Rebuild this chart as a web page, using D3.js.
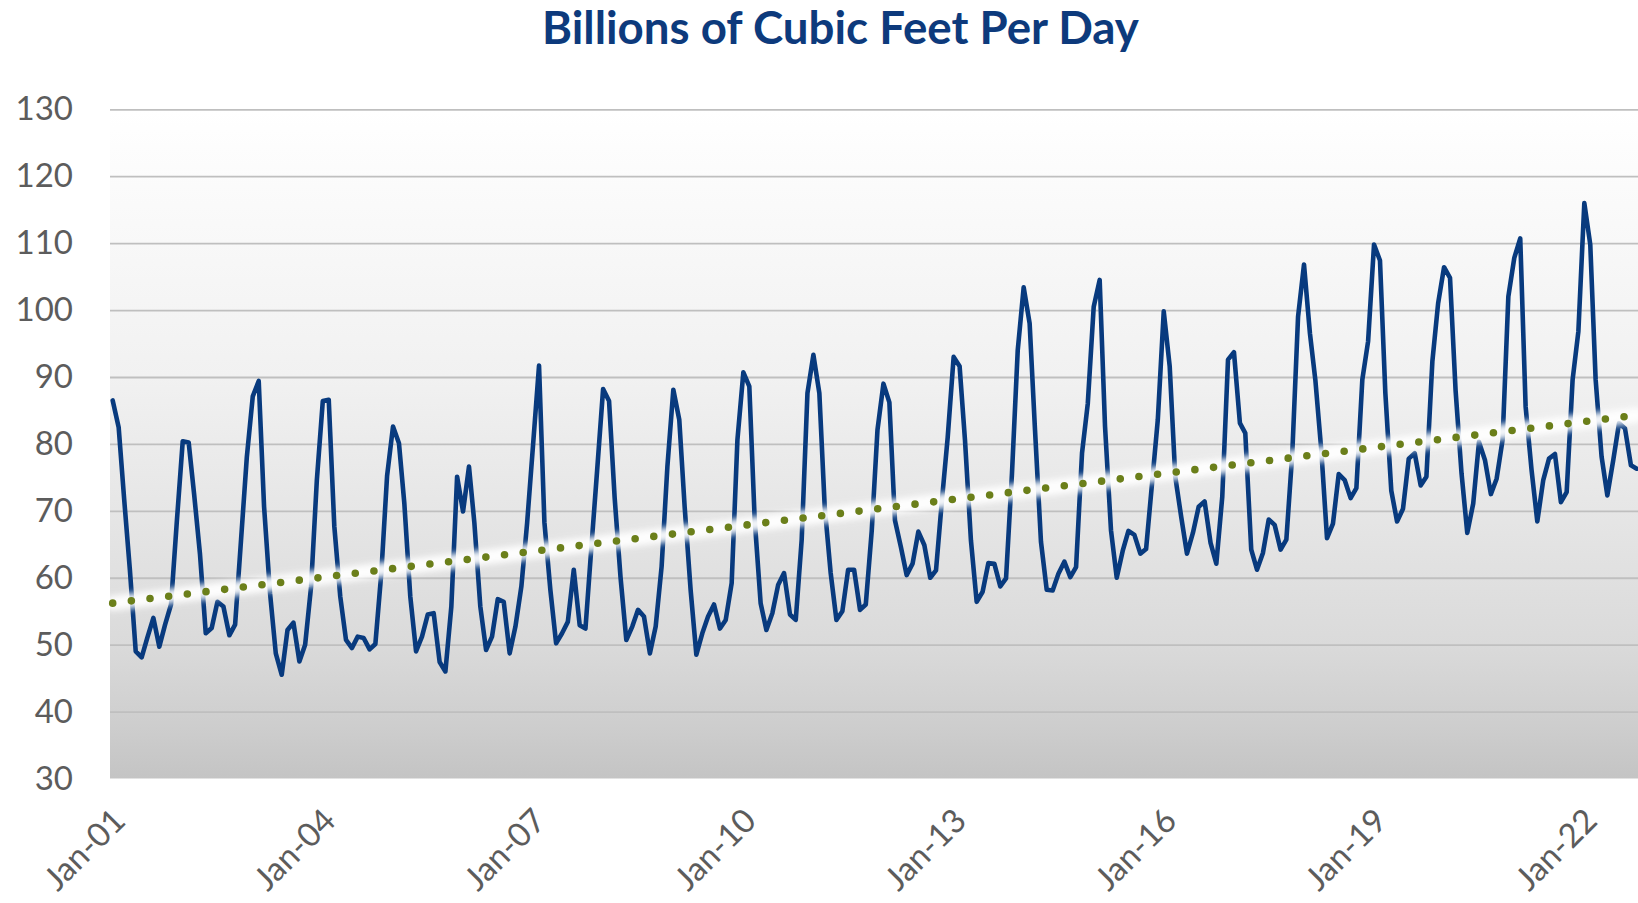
<!DOCTYPE html>
<html>
<head>
<meta charset="utf-8">
<script src="https://cdn.jsdelivr.net/npm/d3@7"></script>
<style>
  html, body { margin: 0; padding: 0; background: #ffffff; }
  svg { display: block; }
</style>
</head>
<body>
<svg id="chart" width="1638" height="903"></svg>
<script>
// ---------------- DATA ----------------
const title = "Billions of Cubic Feet Per Day";
const firstMonth = [2001, 0];   // Jan 2001, monthly series
const supply = [
  86.5, 82.5, 72, 61, 49, 48.1, 51.1, 54, 49.7, 53, 56, 68.3,
  80.4, 80.2, 72.6, 63.5, 51.7, 52.5, 56.4, 55.7, 51.4, 53, 65.7, 78,
  87.1, 89.4, 70.6, 57.7, 48.7, 45.5, 52.2, 53.3, 47.5, 50, 58.7, 74.6,
  86.4, 86.6, 67.7, 57.2, 50.7, 49.5, 51.2, 51, 49.3, 50.1, 60.7, 75.2,
  82.6, 80.1, 71.1, 57.2, 49, 51.2, 54.5, 54.7, 47.4, 46, 55.7, 75.1,
  69.9, 76.6, 68.2, 55.7, 49.2, 51.2, 56.8, 56.4, 48.7, 52.7, 58.7, 68.2,
  79.9, 91.7, 68.3, 58.2, 50.2, 51.7, 53.4, 61.2, 52.9, 52.4, 64.6, 76.1,
  88.2, 86.4, 72, 60, 50.7, 52.7, 55.2, 54.2, 48.7, 52.7, 61.7, 76.6,
  88.1, 83.6, 70.6, 58.2, 48.5, 51.7, 54.2, 56, 52.4, 53.7, 59.2, 80.6,
  90.7, 88.6, 68.7, 56.2, 52.2, 54.7, 58.9, 60.7, 54.5, 53.7, 65.7, 87.6,
  93.3, 87.6, 70.6, 60.7, 53.7, 55, 61.2, 61.2, 55.2, 56, 67, 82.1,
  89, 86.2, 68.6, 64.6, 60.4, 62.1, 66.9, 64.9, 60, 61.1, 71.6, 81,
  93, 91.6, 80.6, 65.6, 56.4, 57.9, 62.2, 62.1, 58.7, 59.9, 75.6, 94,
  103.4, 98, 82.1, 65.4, 58.2, 58.1, 60.6, 62.4, 60.1, 61.6, 78.6, 86,
  100.5, 104.5, 82.6, 67.1, 60, 64, 67, 66.4, 63.6, 64.3, 74.1, 83.6,
  99.8, 91.6, 75.1, 69.1, 63.6, 66.7, 70.6, 71.4, 65.2, 62.1, 72.1, 92.6,
  93.7, 83.1, 81.6, 64.2, 61.2, 63.7, 68.7, 67.9, 64.2, 65.7, 78.6, 99,
  106.8, 96.5, 89.6, 79.1, 65.9, 68.1, 75.5, 74.6, 71.9, 73.4, 89.6, 95.3,
  109.8, 107.4, 87.6, 73, 68.4, 70.3, 77.8, 78.6, 73.8, 75.1, 92.3, 101,
  106.4, 104.8, 88, 75.6, 66.7, 71.1, 80.3, 77.6, 72.5, 74.8, 80.6, 102,
  107.8, 110.7, 85.6, 76.1, 68.4, 74.6, 77.8, 78.5, 71.3, 72.8, 89.6, 96.8,
  116, 109.8, 89.6, 78.1, 72.3, 77.6, 83.1, 82.3, 76.8, 76.3
];
// linear trendline end values (first and last month)
const trendEnds = [56.2, 84.3];
const yTicks = [30, 40, 50, 60, 70, 80, 90, 100, 110, 120, 130];
const xTickLabels = ["Jan-01","Jan-04","Jan-07","Jan-10","Jan-13","Jan-16","Jan-19","Jan-22"];
const xTickYears = [2001, 2004, 2007, 2010, 2013, 2016, 2019, 2022];

// ---------------- LAYOUT ----------------
const W = 1638, H = 903;
const plot = { left: 110, right: 1638, top: 109.3, bottom: 778.5 };
const firstX = 112.7, lastX = 1636.7;

const dates = supply.map((v, i) => new Date(firstMonth[0], firstMonth[1] + i, 1));
const series = supply.map((v, i) => ({ date: dates[i], value: v }));

const svg = d3.select("#chart");
const x = d3.scaleTime()
  .domain([dates[0], dates[dates.length - 1]])
  .range([firstX, lastX]);
const y = d3.scaleLinear()
  .domain([yTicks[0], yTicks[yTicks.length - 1]])
  .range([plot.bottom, plot.top]);

const defs = svg.append("defs");
const grad = defs.append("linearGradient")
  .attr("id", "bg").attr("x1", 0).attr("y1", 0).attr("x2", 0).attr("y2", 1);
[[0, "#ffffff"], [0.4, "#f1f1f1"], [0.6, "#e6e6e6"], [0.8, "#dadada"], [0.9, "#d0d0d0"], [1, "#c4c4c4"]]
  .forEach(([o, c]) => grad.append("stop").attr("offset", o).attr("stop-color", c));
const blur = defs.append("filter").attr("id", "glow")
  .attr("x", "-5%").attr("y", "-50%").attr("width", "110%").attr("height", "200%");
blur.append("feGaussianBlur").attr("stdDeviation", 3);

// plot background
svg.append("rect")
  .attr("x", plot.left).attr("y", plot.top)
  .attr("width", plot.right - plot.left).attr("height", plot.bottom - plot.top)
  .attr("fill", "url(#bg)");

// gridlines + y labels via axis
const yAxis = svg.append("g")
  .attr("transform", `translate(${plot.left},0)`)
  .call(d3.axisLeft(y).tickValues(yTicks).tickSize(-(plot.right - plot.left)).tickPadding(37).tickFormat(d3.format("d")));
yAxis.select(".domain").remove();
yAxis.selectAll(".tick line")
  .attr("stroke", "#bfbfbf").attr("stroke-width", 1.8)
  .attr("opacity", d => d === yTicks[0] ? 0 : 1);
yAxis.selectAll(".tick text")
  .attr("fill", "#5c5c5c")
  .style("font-family", "Lato, 'Open Sans', sans-serif")
  .style("font-size", "33px");

// x axis labels
const xAxis = svg.append("g")
  .attr("transform", `translate(0,${plot.bottom})`)
  .call(d3.axisBottom(x)
    .tickValues(xTickYears.map(yr => new Date(yr, 0, 1)))
    .tickSize(0)
    .tickFormat((d, i) => xTickLabels[i]));
xAxis.select(".domain").remove();
xAxis.selectAll(".tick text")
  .attr("fill", "#5c5c5c")
  .style("font-family", "Lato, 'Open Sans', sans-serif")
  .style("font-size", "33px")
  .attr("text-anchor", "end")
  .attr("x", 0).attr("y", 0).attr("dy", "0.35em")
  .attr("transform", "translate(6,36) rotate(-45)");

// main line
const line = d3.line().x(d => x(d.date)).y(d => y(d.value)).curve(d3.curveLinear);
svg.append("path")
  .datum(series)
  .attr("d", line)
  .attr("fill", "none")
  .attr("stroke", "#083a7e")
  .attr("stroke-width", 4.6)
  .attr("stroke-linejoin", "round")
  .attr("stroke-linecap", "round");

// trendline (glow + dots)
const trend = [
  { date: dates[0], value: trendEnds[0] },
  { date: dates[dates.length - 1], value: trendEnds[1] }
];
svg.append("path")
  .datum(trend)
  .attr("d", line)
  .attr("fill", "none")
  .attr("stroke", "#ffffff")
  .attr("stroke-width", 15)
  .attr("stroke-linecap", "round")
  .attr("opacity", 0.95)
  .attr("filter", "url(#glow)");
svg.append("path")
  .datum(trend)
  .attr("d", line)
  .attr("fill", "none")
  .attr("stroke", "#6b7f1a")
  .attr("stroke-width", 7.6)
  .attr("stroke-linecap", "round")
  .attr("stroke-dasharray", "0 18.8");

// title
const t = svg.append("text")
  .attr("x", 840.5).attr("y", 44)
  .attr("text-anchor", "middle")
  .attr("fill", "#0d3a7c")
  .style("font-family", "Lato, 'Open Sans', sans-serif")
  .style("font-weight", "bold")
  .style("font-size", "40px")
  .text(title);
const tl = t.node().getComputedTextLength();
if (tl > 0) t.style("font-size", (40 * 597 / tl).toFixed(2) + "px");
</script>
</body>
</html>
